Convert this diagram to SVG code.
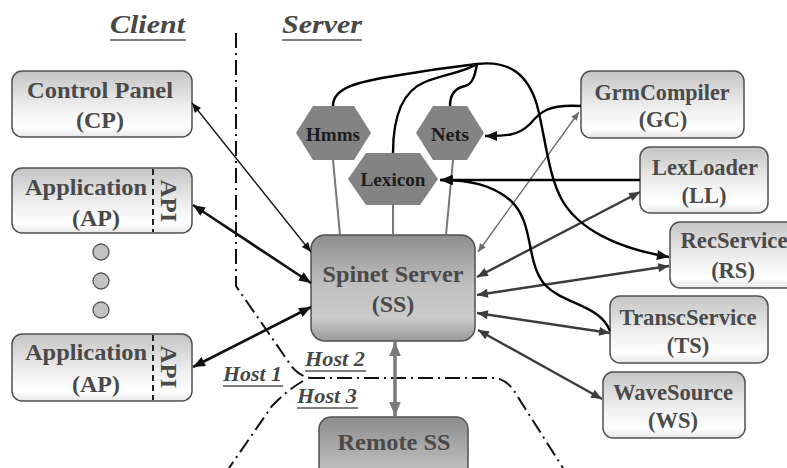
<svg xmlns="http://www.w3.org/2000/svg" width="787" height="468" viewBox="0 0 787 468">
  <defs>
    <style>
      .box { stroke: #505050; stroke-width: 1.5; }
      .light { fill: url(#gLight); }
      .dark { fill: url(#gDark); }
      .remote { fill: url(#gRemote); }
      .lbl { font-weight: bold; fill: #4a4a4a; text-anchor: middle; }
      .big { font-size: 24px; }
      .mid { font-size: 22.5px; }
      .hex { fill: #838383; stroke: none; }
      .hexlbl { font-weight: bold; font-size: 19px; fill: #1c1c1c; text-anchor: middle; }
      .title { font-weight: bold; font-style: italic; fill: #474747; }
      .uline { stroke: #555; stroke-width: 1.6; }
      .border { fill: none; stroke: #111; stroke-width: 2; stroke-dasharray: 15 5 2 5; }
      .api { fill: none; stroke: #222; stroke-width: 2; stroke-dasharray: 6 4; }
      .dot { fill: #c2c2c2; stroke: #555; stroke-width: 1.3; }
      .thinblack { fill: none; stroke: #111; stroke-width: 1.3; marker-start: url(#aBlackS); marker-end: url(#aBlackS); }
      .thickblack { fill: none; stroke: #111; stroke-width: 2.6; marker-start: url(#aBlackL); marker-end: url(#aBlackL); }
      .darkline { fill: none; stroke: #3c3c3c; stroke-width: 2.4; marker-start: url(#aDark); marker-end: url(#aDark); }
      .grayline { fill: none; stroke: #6a6a6a; stroke-width: 1.3; marker-start: url(#aGrayS); marker-end: url(#aGrayS); }
      .remoteline { fill: none; stroke: #7a7a7a; stroke-width: 3.5; marker-start: url(#aGrayL); marker-end: url(#aGrayL); }
      .stem { fill: none; stroke: #777; stroke-width: 2; }
      .flow { fill: none; stroke: #000; stroke-width: 2.4; }
      .flowarrow { marker-end: url(#aBlackL); }
    </style>
    <linearGradient id="gLight" x1="0" y1="0" x2="0" y2="1">
      <stop offset="0" stop-color="#c4c4c4"/>
      <stop offset="0.55" stop-color="#efefef"/>
      <stop offset="0.85" stop-color="#ffffff"/>
      <stop offset="1" stop-color="#e6e6e6"/>
    </linearGradient>
    <linearGradient id="gDark" x1="0" y1="0" x2="0" y2="1">
      <stop offset="0" stop-color="#8e8e8e"/>
      <stop offset="0.5" stop-color="#c2c2c2"/>
      <stop offset="0.78" stop-color="#cbcbcb"/>
      <stop offset="1" stop-color="#999999"/>
    </linearGradient>
    <linearGradient id="gRemote" x1="0" y1="0" x2="0" y2="1">
      <stop offset="0" stop-color="#8c8c8c"/>
      <stop offset="1" stop-color="#cfcfcf"/>
    </linearGradient>
    <marker id="aBlackS" viewBox="0 0 12 10" refX="12" refY="5" markerUnits="userSpaceOnUse" markerWidth="12" markerHeight="8" orient="auto-start-reverse">
      <path d="M0,0 L12,5 L0,10 z" fill="#111"/>
    </marker>
    <marker id="aBlackL" viewBox="0 0 12 10" refX="12" refY="5" markerUnits="userSpaceOnUse" markerWidth="14" markerHeight="10" orient="auto-start-reverse">
      <path d="M0,0 L12,5 L0,10 z" fill="#111"/>
    </marker>
    <marker id="aDark" viewBox="0 0 12 10" refX="12" refY="5" markerUnits="userSpaceOnUse" markerWidth="13" markerHeight="9" orient="auto-start-reverse">
      <path d="M0,0 L12,5 L0,10 z" fill="#3c3c3c"/>
    </marker>
    <marker id="aGrayS" viewBox="0 0 12 10" refX="12" refY="5" markerUnits="userSpaceOnUse" markerWidth="11" markerHeight="7" orient="auto-start-reverse">
      <path d="M0,0 L12,5 L0,10 z" fill="#6a6a6a"/>
    </marker>
    <marker id="aGrayL" viewBox="0 0 12 10" refX="12" refY="5" markerUnits="userSpaceOnUse" markerWidth="14" markerHeight="12" orient="auto-start-reverse">
      <path d="M0,0 L12,5 L0,10 z" fill="#7a7a7a"/>
    </marker>
  </defs>

  <rect x="0" y="0" width="787" height="468" fill="#ffffff"/>

  <!-- host boundaries -->
  <g id="boundaries">
    <path class="border" d="M236,33 L236,286 L290,364 Q297,375 310,378"/>
    <path class="border" d="M310,378 L495,378 Q508,380 516,394 L563,468"/>
    <path class="border" d="M303,381 Q286,391 272,406 L229,468"/>
  </g>

  <g font-family="Liberation Serif, Times New Roman, serif">
  <!-- headings and host labels -->
  <g id="titles">
    <text class="title" x="110" y="33" font-size="26" textLength="75" lengthAdjust="spacingAndGlyphs">Client</text>
    <line class="uline" x1="110" y1="40" x2="186" y2="40"/>
    <text class="title" x="282" y="33" font-size="26" textLength="80" lengthAdjust="spacingAndGlyphs">Server</text>
    <line class="uline" x1="282" y1="40" x2="362" y2="40"/>
    <text class="title" x="223" y="381" font-size="21" textLength="59" lengthAdjust="spacingAndGlyphs">Host 1</text>
    <line class="uline" x1="223" y1="386" x2="283" y2="386"/>
    <text class="title" x="305" y="366" font-size="21" textLength="60" lengthAdjust="spacingAndGlyphs">Host 2</text>
    <line class="uline" x1="305" y1="371" x2="366" y2="371"/>
    <text class="title" x="297" y="403" font-size="21" textLength="60" lengthAdjust="spacingAndGlyphs">Host 3</text>
    <line class="uline" x1="297" y1="408" x2="358" y2="408"/>
  </g>

  <!-- client side -->
  <g id="cp">
    <rect class="box light" x="12" y="71" width="180" height="66" rx="10"/>
    <text class="lbl big" x="100" y="98" textLength="146" lengthAdjust="spacingAndGlyphs">Control Panel</text>
    <text class="lbl big" x="100" y="128">(CP)</text>
  </g>
  <g id="ap1">
    <rect class="box light" x="12" y="168" width="180" height="65" rx="10"/>
    <line class="api" x1="153" y1="169" x2="153" y2="232"/>
    <text class="lbl big" x="86" y="195" textLength="122" lengthAdjust="spacingAndGlyphs">Application</text>
    <text class="lbl big" x="96" y="226">(AP)</text>
    <text class="lbl big" transform="translate(161,201) rotate(90)" x="0" y="0" textLength="43" lengthAdjust="spacingAndGlyphs">API</text>
  </g>
  <g id="more-apps">
    <circle class="dot" cx="101" cy="252" r="8"/>
    <circle class="dot" cx="101" cy="281" r="8"/>
    <circle class="dot" cx="101" cy="310" r="8"/>
  </g>
  <g id="ap2">
    <rect class="box light" x="12" y="334" width="180" height="67" rx="10"/>
    <line class="api" x1="153" y1="335" x2="153" y2="400"/>
    <text class="lbl big" x="86" y="360" textLength="122" lengthAdjust="spacingAndGlyphs">Application</text>
    <text class="lbl big" x="96" y="392">(AP)</text>
    <text class="lbl big" transform="translate(161,367) rotate(90)" x="0" y="0" textLength="43" lengthAdjust="spacingAndGlyphs">API</text>
  </g>

  <!-- server -->
  <g id="ss">
    <rect class="box dark" x="311" y="235" width="164" height="106" rx="14"/>
    <text class="lbl big" x="393" y="282" textLength="141" lengthAdjust="spacingAndGlyphs">Spinet Server</text>
    <text class="lbl big" x="393" y="312">(SS)</text>
  </g>
  <g id="remote-ss">
    <rect class="box remote" x="319" y="417" width="149" height="70" rx="12"/>
    <text class="lbl big" x="394" y="450" textLength="113" lengthAdjust="spacingAndGlyphs">Remote SS</text>
  </g>

  <!-- data stores -->
  <g id="hmms">
    <polygon class="hex" points="296,133 313,106 354,106 371,133 354,160 313,160"/>
    <text class="hexlbl" x="333" y="141" textLength="54" lengthAdjust="spacingAndGlyphs">Hmms</text>
  </g>
  <g id="nets">
    <polygon class="hex" points="416,133 433,106 467,106 484,133 467,160 433,160"/>
    <text class="hexlbl" x="450" y="141" textLength="38" lengthAdjust="spacingAndGlyphs">Nets</text>
  </g>
  <g id="lexicon">
    <polygon class="hex" points="348,179 366,153 420,153 438,179 420,205 366,205"/>
    <text class="hexlbl" x="393" y="186" textLength="65" lengthAdjust="spacingAndGlyphs">Lexicon</text>
  </g>

  <!-- services -->
  <g id="gc">
    <rect class="box light" x="581" y="71" width="163" height="67" rx="10"/>
    <text class="lbl mid" x="662" y="100" textLength="135" lengthAdjust="spacingAndGlyphs">GrmCompiler</text>
    <text class="lbl mid" x="663" y="127">(GC)</text>
  </g>
  <g id="ll">
    <rect class="box light" x="640" y="147" width="128" height="66" rx="10"/>
    <text class="lbl mid" x="705" y="175" textLength="106" lengthAdjust="spacingAndGlyphs">LexLoader</text>
    <text class="lbl mid" x="704" y="203">(LL)</text>
  </g>
  <g id="rs">
    <rect class="box light" x="670" y="222" width="130" height="66" rx="10"/>
    <text class="lbl mid" x="734" y="248" textLength="107" lengthAdjust="spacingAndGlyphs">RecService</text>
    <text class="lbl mid" x="733" y="278">(RS)</text>
  </g>
  <g id="ts">
    <rect class="box light" x="610" y="296" width="158" height="67" rx="10"/>
    <text class="lbl mid" x="688" y="325" textLength="137" lengthAdjust="spacingAndGlyphs">TranscService</text>
    <text class="lbl mid" x="688" y="353">(TS)</text>
  </g>
  <g id="ws">
    <rect class="box light" x="603" y="372" width="142" height="66" rx="10"/>
    <text class="lbl mid" x="673" y="400" textLength="120" lengthAdjust="spacingAndGlyphs">WaveSource</text>
    <text class="lbl mid" x="673" y="428">(WS)</text>
  </g>
  </g>

  <!-- connectors -->
  <g id="connectors">
    <path class="stem" d="M333,160 L340,235"/>
    <path class="stem" d="M393,205 L393,235"/>
    <path class="stem" d="M453,160 L446,235"/>

    <path class="thinblack" d="M192,103 L311,252"/>
    <path class="thickblack" d="M193,205 L311,283"/>
    <path class="thickblack" d="M193,367 L311,307"/>

    <path class="grayline" d="M478,252 L579,112"/>
    <path class="darkline" d="M477,277 L640,192"/>
    <path class="darkline" d="M477,295 L669,266"/>
    <path class="darkline" d="M477,313 L610,333"/>
    <path class="darkline" d="M478,330 L602,399"/>
    <path class="remoteline" d="M395,342 L395,416"/>

    <path class="flow flowarrow" d="M640,180 L440,180"/>
    <path class="flow flowarrow" d="M610,331 C600,305 565,305 545,285 C525,262 535,222 510,200 C492,185 470,180 441,180"/>
    <path class="flow flowarrow" d="M581,106 C548,104 540,112 530,124 C518,136 505,136 485,136"/>

    <path class="flow" d="M333,106 C333,88 355,82 400,75 C440,68 460,66 477,64"/>
    <path class="flow" d="M393,153 C393,120 400,92 425,82 C445,74 465,72 477,64"/>
    <path class="flow" d="M450,106 C450,95 455,88 465,86 C473,84 475,75 477,64"/>
    <path class="flow flowarrow" d="M477,64 C510,60 528,75 537,105 C545,135 548,175 562,200 C578,228 615,248 669,257"/>
  </g>
</svg>
